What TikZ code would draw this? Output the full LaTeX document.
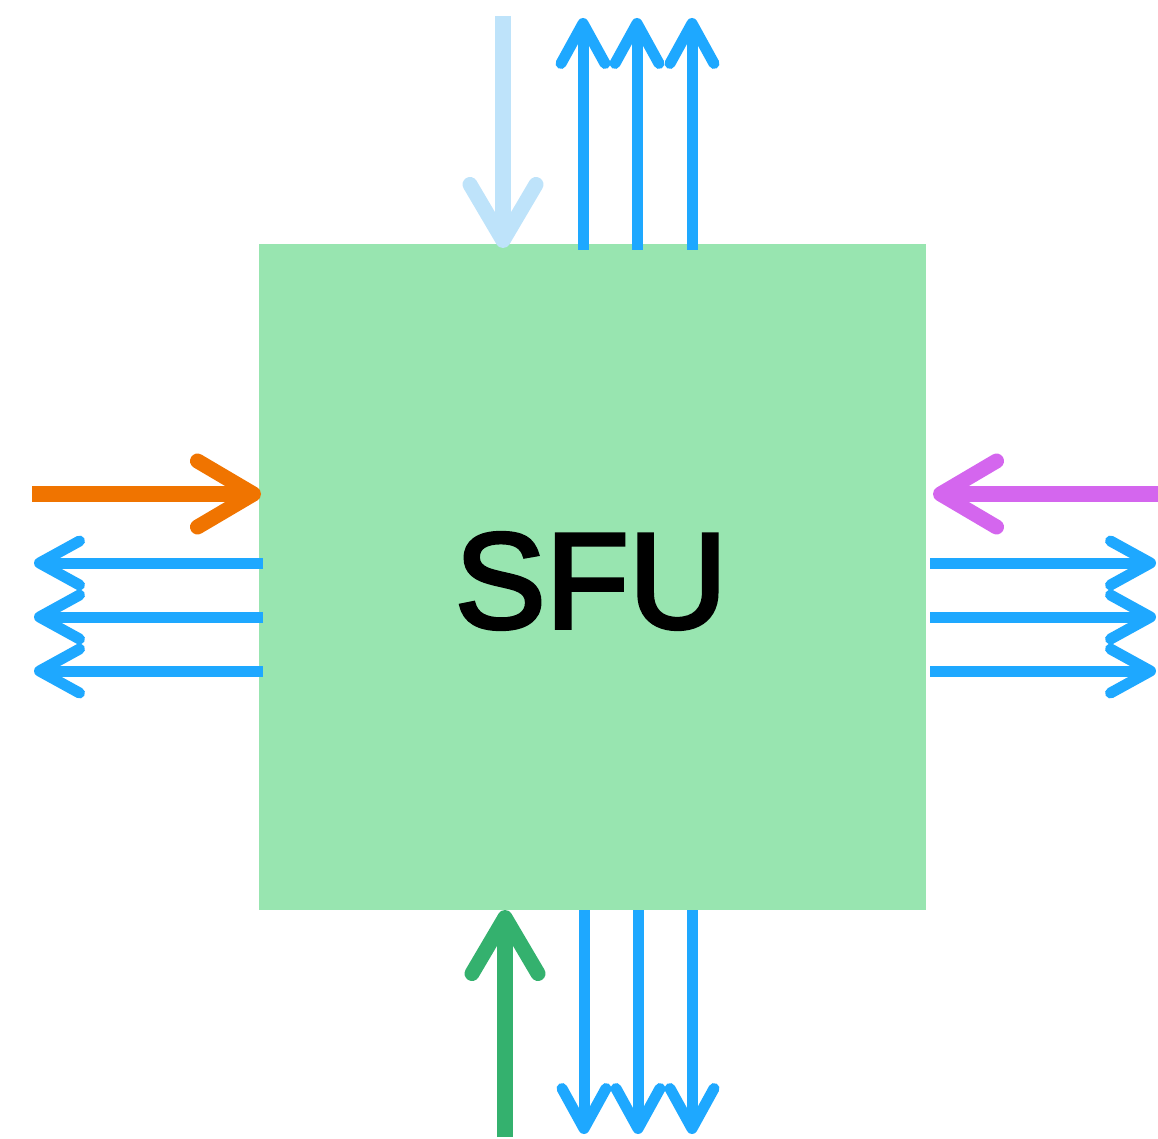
\documentclass[tikz,border=0pt]{standalone}
\usepackage{fontspec}
\newfontfamily\sfufont{Liberation Sans}
\usetikzlibrary{arrows.meta}
\definecolor{boxgreen}{HTML}{98E5B0}
\definecolor{flowblue}{HTML}{1EA8FF}
\definecolor{paleblue}{HTML}{BEE3FA}
\definecolor{orangeC}{HTML}{F07400}
\definecolor{purpleC}{HTML}{D466EE}
\definecolor{greenC}{HTML}{34B16E}
\begin{document}
\begin{tikzpicture}[x=1pt,y=-1pt,
  outflow/.style={draw=flowblue,line width=11pt,
    -{Straight Barb[length=40pt,width=44pt,line width=11pt,round]}},
  bigflow/.style={line width=16pt,
    -{Straight Barb[length=56pt,width=66pt,line width=15pt,round]}},
  sfubox/.style={fill=boxgreen,draw=none,minimum width=667pt,minimum height=666pt,inner sep=0pt}]
\useasboundingbox (0,0) rectangle (1158,1139);
\node[sfubox] (sfu) at (592.5,577) {};
\node[font={\sfufont\fontsize{136}{136}\selectfont}] (label) at (591,581) {\special{pdf:code 2 Tr 4 w}SFU\special{pdf:code 0 Tr 1 w}};
% incoming streams
\coordinate (tin) at (503,16);  \coordinate (tend) at (503,248);
\coordinate (lin) at (32,494);  \coordinate (lend) at (261,494);
\coordinate (rin) at (1158,494); \coordinate (rend) at (933,494);
\coordinate (bin) at (505,1137); \coordinate (bend) at (505,910);
\draw[bigflow,draw=paleblue] (tin) -- (tend);
\draw[bigflow,draw=orangeC] (lin) -- (lend);
\draw[bigflow,draw=purpleC] (rin) -- (rend);
\draw[bigflow,draw=greenC] (bin) -- (bend);
% outgoing streams top
\foreach \x [count=\i] in {583,637,692}{
  \coordinate (ts\i) at (\x,250); \coordinate (te\i) at (\x,18);
  \draw[outflow] (ts\i) -- (te\i);}
% bottom
\foreach \x [count=\i] in {584,638,692}{
  \coordinate (bs\i) at (\x,910); \coordinate (be\i) at (\x,1134);
  \draw[outflow] (bs\i) -- (be\i);}
% left
\foreach \y [count=\i] in {563,617,671}{
  \coordinate (ls\i) at (263,\y); \coordinate (le\i) at (34,\y);
  \draw[outflow] (ls\i) -- (le\i);}
% right
\foreach \y [count=\i] in {563,617,671}{
  \coordinate (rs\i) at (930,\y); \coordinate (re\i) at (1156,\y);
  \draw[outflow] (rs\i) -- (re\i);}
\end{tikzpicture}
\end{document}
